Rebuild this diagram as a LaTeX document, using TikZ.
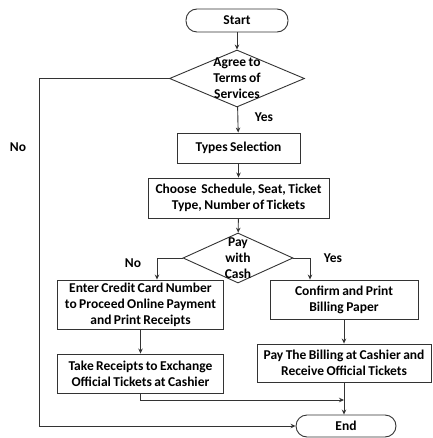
\documentclass[tikz,border=0pt]{standalone}
\usepackage{fontspec}
\setmainfont{Carlito}
\usetikzlibrary{arrows.meta,shapes.geometric,positioning}
\newcommand{\dfont}{\bfseries\fontsize{13.5}{16}\selectfont\spaceskip=0.18em plus 0.05em minus 0.05em\relax}
\begin{document}
\begin{tikzpicture}[x=1pt,y=-1pt,
  every node/.style={font=\dfont, inner sep=1pt},
  boxnode/.style={draw=black!80, line width=0.9pt, align=center, minimum height=#1},
  term/.style={draw=black!80, line width=0.9pt, rounded corners=11pt, minimum height=22pt},
  decision/.style={draw=black!80, line width=0.9pt, diamond, inner sep=0pt},
  arr/.style={draw=black!80, line width=0.9pt, -{Stealth[length=5pt,width=4.5pt]}},
  ln/.style={draw=black!80, line width=0.9pt},
  lbl/.style={inner sep=0pt}]
\useasboundingbox (0,0) rectangle (432,438);
\node[term, minimum width=102pt, minimum height=23pt] (start) at (237,20.5) {Start};
\node[decision, minimum width=135pt, minimum height=57pt,
  label={[align=center,inner sep=0pt,font=\dfont]center:Agree to\\Terms of\\Services}] (d1) at (237,78.5) {};
\node[boxnode=30pt, minimum width=123pt] (types) at (238.5,148) {Types Selection};
\node[boxnode=40pt, minimum width=181pt] (choose) at (238.5,198) {Choose\ \ Schedule, Seat, Ticket\\Type, Number of Tickets};
\node[decision, minimum width=110pt, minimum height=50pt,
  label={[align=center,inner sep=0pt,font=\dfont]center:Pay\\with\\Cash}] (d2) at (238,258) {};
\node[boxnode=49pt, minimum width=166pt] (cc) at (140.5,304.5) {Enter Credit Card Number\\to Proceed Online Payment\\and Print Receipts};
\node[boxnode=39pt, minimum width=148pt] (confirm) at (344,299.5) {Confirm and Print\\Billing Paper};
\node[boxnode=39pt, minimum width=166pt] (take) at (140.5,373.5) {Take Receipts to Exchange\\Official Tickets at Cashier};
\node[boxnode=38pt, minimum width=174pt] (pay) at (344,363) {Pay The Billing at Cashier and\\Receive Official Tickets};
\node[term, minimum width=100pt, minimum height=22pt] (end) at (346,426) {End};
\node[lbl] (yes1) at (264,117) {Yes};
\node[lbl] (no1) at (18,147) {No};
\node[lbl] (no2) at (133,263) {No};
\node[lbl] (yes2) at (333,258) {Yes};
\coordinate (lc) at (39,78.5);
\coordinate (jn) at (344,400);
\draw[arr] (start) -- (d1);
\draw[arr] (d1) -- (types);
\draw[arr] (types) -- (choose);
\draw[arr] (choose) -- (d2);
\draw[arr] (d2.west) -| ([xshift=16.5pt]cc.north);
\draw[arr] (d2.east) -| ([xshift=-34pt]confirm.north);
\draw[arr] (cc) -- (take);
\draw[arr] (confirm) -- (pay);
\draw[arr] (take.south) |- (jn);
\draw[arr] (pay.south) -- (pay.south |- end.north);
\draw[ln] (d1.west) -- (lc);
\draw[arr] (lc) |- (end.west);
\end{tikzpicture}
\end{document}
